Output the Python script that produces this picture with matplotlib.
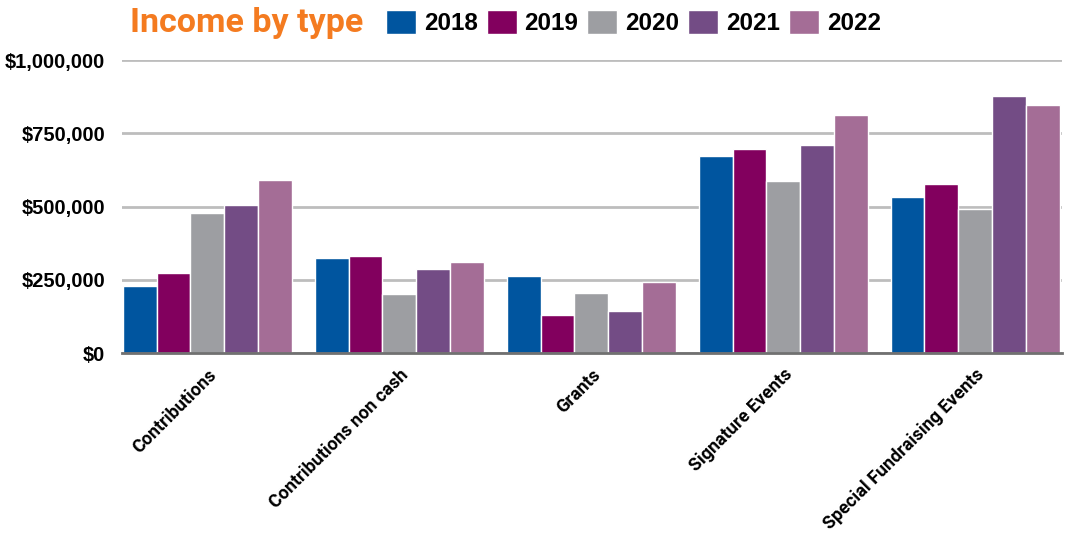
import numpy as np
import matplotlib
matplotlib.use("Agg")
import matplotlib.pyplot as plt
from matplotlib.ticker import FuncFormatter

categories = ["Contributions", "Contributions non cash", "Grants",
              "Signature Events", "Special Fundraising Events"]
years = ["2018", "2019", "2020", "2021", "2022"]
income_2018 = [229000, 324000, 263000, 672000, 533000]
income_2019 = [272000, 331000, 130000, 695000, 578000]
income_2020 = [479000, 201000, 205000, 589000, 493000]
income_2021 = [505000, 287000, 143000, 709000, 876000]
income_2022 = [590000, 311000, 242000, 814000, 848000]
series = [income_2018, income_2019, income_2020, income_2021, income_2022]
colors = ["#00559F", "#82005E", "#9D9EA2", "#734C85", "#A46D96"]

narrow = ["Roboto", "DejaVu Sans"]
sans = ["Liberation Sans", "DejaVu Sans"]

fig = plt.figure(figsize=(10.66, 5.37), dpi=100)
ax = fig.add_axes([0.1144, 0.3426, 0.8816, 0.5454])

x = np.arange(len(categories))
w = 0.176
for i, (vals, c, yr) in enumerate(zip(series, colors, years)):
    ax.bar(x + (i - 2) * w, vals, width=w, color=c, edgecolor="white",
           linewidth=1.0, label=yr, zorder=3)

ax.set_xlim(-0.445, 4.451)
ax.set_ylim(0, 1000000)
ax.set_yticks([0, 250000, 500000, 750000, 1000000])
ax.yaxis.set_major_formatter(FuncFormatter(lambda v, p: f"${v:,.0f}"))
ax.grid(axis="y", color="#BDBDBD", linewidth=2, zorder=0)
for s in ["top", "right", "left"]:
    ax.spines[s].set_visible(False)
ax.spines["bottom"].set_color("#707070")
ax.spines["bottom"].set_linewidth(2)
ax.spines["bottom"].set_zorder(4)
ax.tick_params(axis="y", length=0, pad=12)
ax.tick_params(axis="x", length=0, pad=9)
for lab in ax.get_yticklabels():
    lab.set_fontfamily(sans)
    lab.set_fontweight("bold")
    lab.set_fontsize(14.5)

ax.set_xticks(x)
ax.set_xticklabels(categories, rotation=45, ha="right", va="top",
                   rotation_mode="anchor", fontsize=13, fontweight="bold",
                   family=narrow)

fig.text(0.122, 0.958, "Income by type", color="#F47B20", fontsize=24.5,
         fontweight="bold", family=narrow, ha="left", va="center")

handles, labels = ax.get_legend_handles_labels()
fig.legend(handles, labels, loc="center left", bbox_to_anchor=(0.362, 0.958),
           ncol=5, frameon=False, handlelength=1.23, handleheight=1.15,
           handletextpad=0.33, columnspacing=0.37, borderpad=0, borderaxespad=0,
           prop={"family": sans, "weight": "bold", "size": 17.5})

fig.savefig("out.png", dpi=100)
